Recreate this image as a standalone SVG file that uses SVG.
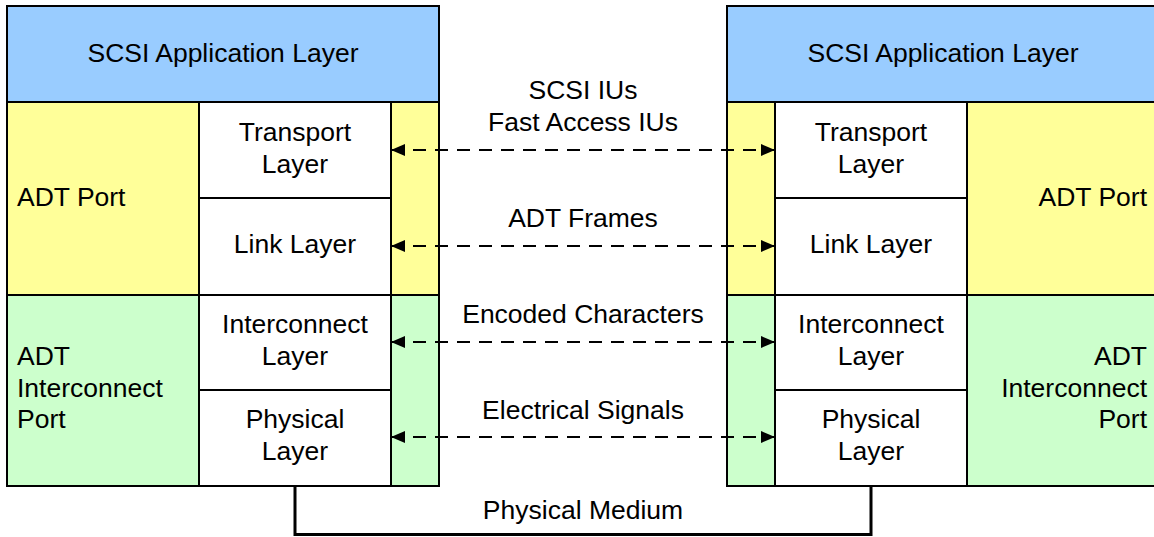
<svg xmlns="http://www.w3.org/2000/svg" width="1154" height="537" viewBox="0 0 1154 537">
<style>
  .t { font-family: "Liberation Sans", Arial, sans-serif; font-size: 26.5px; fill: #000; }
  .c { text-anchor: middle; }
  .r { text-anchor: end; }
  .box { stroke: #000; stroke-width: 2; }
  .blue { fill: #99CCFF; }
  .yellow { fill: #FFFF99; }
  .green { fill: #CCFFCC; }
  .white { fill: #FFFFFF; }
  .dash { stroke: #000; stroke-width: 2; stroke-dasharray: 13 9; fill: none; marker-start: url(#ah); marker-end: url(#ah); }
  .medium { stroke: #000; stroke-width: 3; fill: none; }
</style>
<defs>
  <marker id="ah" viewBox="0 0 14 12" refX="14" refY="6" markerWidth="14" markerHeight="12" markerUnits="userSpaceOnUse" orient="auto-start-reverse">
    <path d="M0,0 L14,6 L0,12 Z" fill="#000"/>
  </marker>
</defs>
<rect width="1154" height="537" fill="#fff"/>

<!-- Left stack -->
<g id="left-app">
  <rect class="box blue" x="7" y="6" width="432" height="96"/>
  <text class="t c" x="223" y="62">SCSI Application Layer</text>
</g>
<g id="left-adt-port">
  <rect class="box yellow" x="7" y="102" width="432" height="193"/>
  <text class="t" x="17" y="206">ADT Port</text>
</g>
<g id="left-adt-interconnect-port">
  <rect class="box green" x="7" y="295" width="432" height="191"/>
  <text class="t" x="17" y="365">ADT</text>
  <text class="t" x="17" y="397">Interconnect</text>
  <text class="t" x="17" y="428">Port</text>
</g>
<g id="left-transport">
  <rect class="box white" x="199" y="102" width="192" height="96"/>
  <text class="t c" x="295" y="141">Transport</text>
  <text class="t c" x="295" y="173">Layer</text>
</g>
<g id="left-link">
  <rect class="box white" x="199" y="198" width="192" height="97"/>
  <text class="t c" x="295" y="253">Link Layer</text>
</g>
<g id="left-interconnect">
  <rect class="box white" x="199" y="295" width="192" height="95"/>
  <text class="t c" x="295" y="333">Interconnect</text>
  <text class="t c" x="295" y="365">Layer</text>
</g>
<g id="left-physical">
  <rect class="box white" x="199" y="390" width="192" height="96"/>
  <text class="t c" x="295" y="428">Physical</text>
  <text class="t c" x="295" y="460">Layer</text>
</g>

<!-- Right stack -->
<g id="right-app">
  <rect class="box blue" x="727" y="6" width="432" height="96"/>
  <text class="t c" x="943" y="62">SCSI Application Layer</text>
</g>
<g id="right-adt-port">
  <rect class="box yellow" x="727" y="102" width="432" height="193"/>
  <text class="t r" x="1147" y="206">ADT Port</text>
</g>
<g id="right-adt-interconnect-port">
  <rect class="box green" x="727" y="295" width="432" height="191"/>
  <text class="t r" x="1147" y="365">ADT</text>
  <text class="t r" x="1147" y="397">Interconnect</text>
  <text class="t r" x="1147" y="428">Port</text>
</g>
<g id="right-transport">
  <rect class="box white" x="775" y="102" width="192" height="96"/>
  <text class="t c" x="871" y="141">Transport</text>
  <text class="t c" x="871" y="173">Layer</text>
</g>
<g id="right-link">
  <rect class="box white" x="775" y="198" width="192" height="97"/>
  <text class="t c" x="871" y="253">Link Layer</text>
</g>
<g id="right-interconnect">
  <rect class="box white" x="775" y="295" width="192" height="95"/>
  <text class="t c" x="871" y="333">Interconnect</text>
  <text class="t c" x="871" y="365">Layer</text>
</g>
<g id="right-physical">
  <rect class="box white" x="775" y="390" width="192" height="96"/>
  <text class="t c" x="871" y="428">Physical</text>
  <text class="t c" x="871" y="460">Layer</text>
</g>

<!-- Connectors -->
<g id="connectors">
  <line class="dash" x1="391" y1="150" x2="775" y2="150"/>
  <line class="dash" x1="391" y1="246" x2="775" y2="246"/>
  <line class="dash" x1="391" y1="342" x2="775" y2="342"/>
  <line class="dash" x1="391" y1="437" x2="775" y2="437"/>
  <polyline class="medium" points="295,486 295,534.5 871,534.5 871,486"/>
  <text class="t c" x="583" y="99">SCSI IUs</text>
  <text class="t c" x="583" y="131">Fast Access IUs</text>
  <text class="t c" x="583" y="227">ADT Frames</text>
  <text class="t c" x="583" y="323">Encoded Characters</text>
  <text class="t c" x="583" y="419">Electrical Signals</text>
  <text class="t c" x="583" y="519">Physical Medium</text>
</g>
</svg>
